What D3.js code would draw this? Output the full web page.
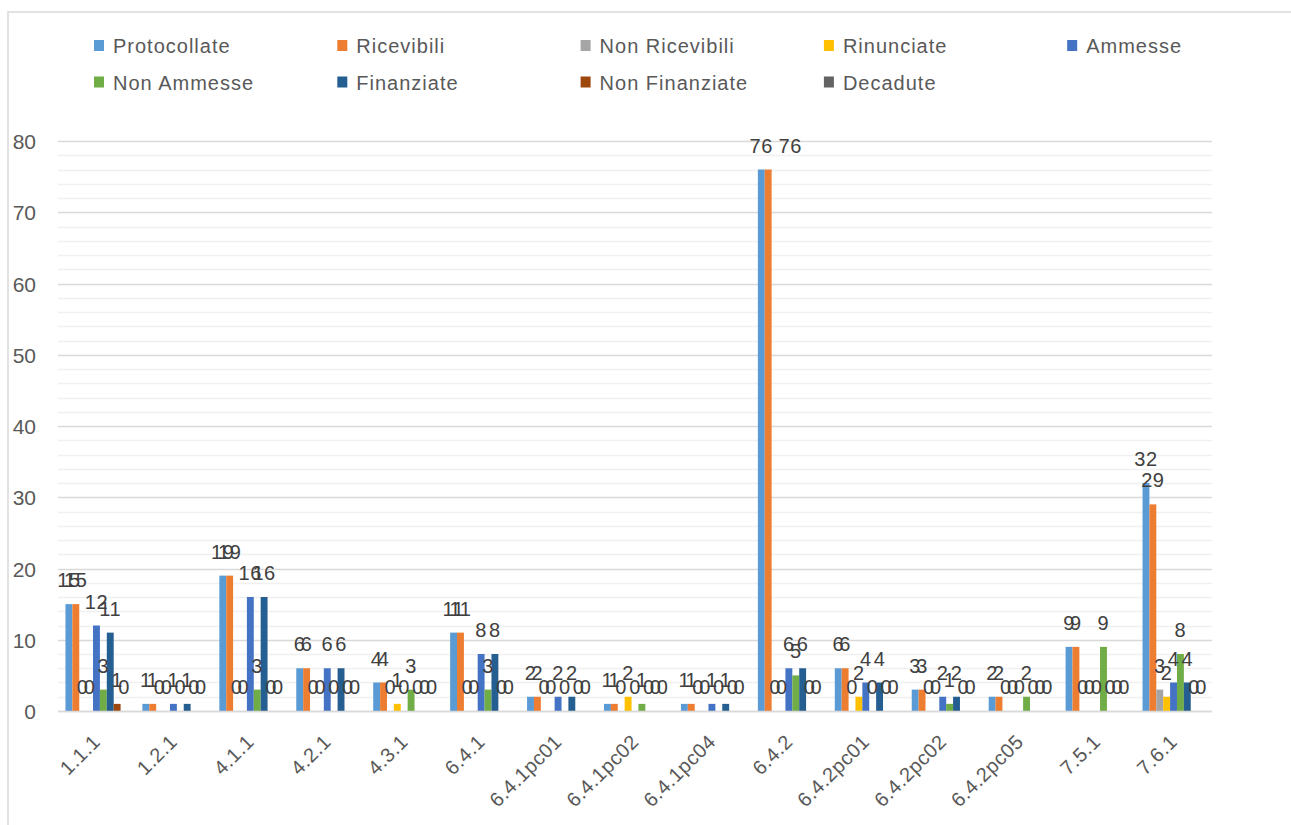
<!DOCTYPE html>
<html><head><meta charset="utf-8">
<script src="https://cdn.jsdelivr.net/npm/d3@7/dist/d3.min.js"></script>
<style>
html,body{margin:0;padding:0;background:#fff;}
text{font-family:"Liberation Sans",Arial,sans-serif;}
</style></head>
<body><svg id="c" width="1291" height="825"></svg>
<script>
const categories = ["1.1.1","1.2.1","4.1.1","4.2.1","4.3.1","6.4.1","6.4.1pc01","6.4.1pc02","6.4.1pc04","6.4.2","6.4.2pc01","6.4.2pc02","6.4.2pc05","7.5.1","7.6.1"];
const seriesNames = ["Protocollate","Ricevibili","Non Ricevibili","Rinunciate","Ammesse","Non Ammesse","Finanziate","Non Finanziate","Decadute"];
const seriesColors = ["#5B9BD5","#ED7D31","#A5A5A5","#FFC000","#4472C4","#70AD47","#255E91","#9E480E","#636363"];
const protocollate  = [15,1,19,6,4,11,2,1,1,76,6,3,2,9,32];
const ricevibili    = [15,1,19,6,4,11,2,1,1,76,6,3,2,9,29];
const nonRicevibili = [0,0,0,0,0,0,0,0,0,0,0,0,0,0,3];
const rinunciate    = [0,0,0,0,1,0,0,2,0,0,2,0,0,0,2];
const ammesse       = [12,1,16,6,0,8,2,0,1,6,4,2,0,0,4];
const nonAmmesse    = [3,0,3,0,3,3,0,1,0,5,0,1,2,9,8];
const finanziate    = [11,1,16,6,0,8,2,0,1,6,4,2,0,0,4];
const nonFinanziate = [1,0,0,0,0,0,0,0,0,0,0,0,0,0,0];
const decadute      = [0,0,0,0,0,0,0,0,0,0,0,0,0,0,0];
const yTicks = [0,10,20,30,40,50,60,70,80];

const seriesValues = [protocollate,ricevibili,nonRicevibili,rinunciate,ammesse,nonAmmesse,finanziate,nonFinanziate,decadute];

(function(){
const svg = d3.select("#c");
svg.append("rect").attr("x",8).attr("y",12).attr("width",1320).attr("height",840)
  .attr("fill","none").attr("stroke","#d9d9d9").attr("stroke-width",1.5);

const pLeft = 58, pRight = 1212, pTop = 141, pBottom = 711;
const y = d3.scaleLinear().domain([0,80]).range([pBottom, pTop]);
const x0 = d3.scaleBand().domain(categories).range([pLeft, pRight]).paddingInner(0).paddingOuter(0);
const groupW = 62;
const x1 = d3.scaleBand().domain(seriesNames).range([0, groupW]).padding(0);

// label nudge where the original chart moved an overlapping label aside
const labelNudge = {"6.4.2|Ricevibili": 22};

const minor = d3.range(2, 80, 2).filter(v => v % 10 !== 0);
svg.append("g").selectAll("line").data(minor).join("line")
  .attr("x1",pLeft).attr("x2",pRight).attr("y1",d=>Math.round(y(d))+0.5).attr("y2",d=>Math.round(y(d))+0.5)
  .attr("stroke","#f0f0f0").attr("stroke-width",1.5);
svg.append("g").selectAll("line").data(yTicks).join("line")
  .attr("x1",pLeft).attr("x2",pRight).attr("y1",d=>Math.round(y(d))+0.5).attr("y2",d=>Math.round(y(d))+0.5)
  .attr("stroke","#d9d9d9").attr("stroke-width",1.5);

const yAxis = d3.axisLeft(y).tickValues(yTicks).tickSize(0).tickPadding(0);
const ya = svg.append("g").attr("transform",`translate(36,0)`).call(yAxis);
ya.select(".domain").remove();
ya.selectAll("text").attr("font-size",21).attr("fill","#595959").attr("dy","0.36em")
  .style("font-family",'"Liberation Sans",Arial,sans-serif');

const groups = svg.append("g").selectAll("g").data(categories).join("g")
  .attr("transform", c => `translate(${x0(c) + (x0.bandwidth()-groupW)/2},0)`);
groups.each(function(c, ci){
  const g = d3.select(this);
  seriesNames.forEach((s, si) => {
    const v = seriesValues[si][ci];
    g.append("rect").attr("x", x1(s)).attr("width", x1.bandwidth())
      .attr("y", y(v)).attr("height", pBottom - y(v)).attr("fill", seriesColors[si]);
  });
  seriesNames.forEach((s, si) => {
    const v = seriesValues[si][ci];
    const nudge = labelNudge[c + "|" + s] || 0;
    g.append("text").attr("x", x1(s) + x1.bandwidth()/2 + nudge).attr("y", y(v) - 17)
      .attr("text-anchor","middle").attr("font-size",20).attr("letter-spacing",0.6)
      .attr("fill","#404040").text(v);
  });
});

svg.append("line").attr("x1",pLeft).attr("x2",pRight).attr("y1",pBottom+0.5).attr("y2",pBottom+0.5)
  .attr("stroke","#d9d9d9").attr("stroke-width",1.5);

const xAxis = d3.axisBottom(x0).tickSize(0).tickPadding(0);
const xa = svg.append("g").attr("transform",`translate(0,${pBottom})`).call(xAxis);
xa.select(".domain").remove();
xa.selectAll("text")
  .attr("font-size",20).attr("fill","#595959").attr("letter-spacing",0.5)
  .style("font-family",'"Liberation Sans",Arial,sans-serif')
  .attr("text-anchor","end").attr("dy",null).attr("y",0).attr("x",0)
  .attr("transform","translate(5,32) rotate(-45)");

const legendPos = seriesNames.map((s,i)=>({s, c:seriesColors[i], col:i%5, row:Math.floor(i/5)}));
const lg = svg.append("g").selectAll("g").data(legendPos).join("g")
  .attr("transform", d => `translate(${94 + d.col*243.3},${46 + d.row*36.5})`);
lg.append("rect").attr("x",0).attr("y",-6).attr("width",10).attr("height",11).attr("fill",d=>d.c);
lg.append("text").attr("x",19).attr("y",0).attr("dy","0.36em").attr("font-size",20)
  .attr("letter-spacing",1).attr("fill","#595959").text(d=>d.s);
})();
</script>
</body></html>
